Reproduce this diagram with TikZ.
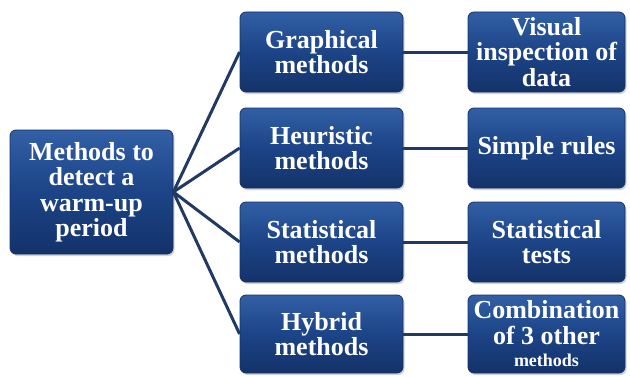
\documentclass[tikz,border=0pt]{standalone}
\usepackage{fontspec}
\setmainfont{Liberation Serif}
\usetikzlibrary{shadows}
\definecolor{boxtop}{RGB}{50,95,165}
\definecolor{boxmid}{RGB}{28,68,135}
\definecolor{boxbot}{RGB}{20,50,105}
\definecolor{linecol}{RGB}{32,58,100}
\tikzset{
  mbox/.style={draw=boxbot, line width=0.8pt, rounded corners=6pt,
    top color=boxtop, bottom color=boxbot, middle color=boxmid,
    drop shadow={shadow xshift=1.5pt, shadow yshift=-2pt, opacity=0.35},
    text=white, font=\bfseries\fontsize{26}{25.5}\selectfont, align=center,
    inner sep=0pt},
  conn/.style={draw=linecol, line width=3pt}
}
\begin{document}
\begin{tikzpicture}[x=1pt,y=1pt]
\useasboundingbox (0,0) rectangle (630,376);
\node[mbox, minimum width=163pt, minimum height=124pt] (root) at (91.5,184) {Methods to\\detect a\\warm-up\\period};
\node[mbox, minimum width=163pt, minimum height=80pt] (g) at (321.5,324) {Graphical\\methods};
\node[mbox, minimum width=163pt, minimum height=80pt] (h) at (321.5,228) {Heuristic\\methods};
\node[mbox, minimum width=163pt, minimum height=80pt] (s) at (321.5,134) {Statistical\\methods};
\node[mbox, minimum width=163pt, minimum height=78pt] (y) at (321.5,42) {Hybrid\\methods};
\node[mbox, minimum width=157pt, minimum height=80pt] (gv) at (546.5,324) {Visual\\inspection of\\data};
\node[mbox, minimum width=157pt, minimum height=80pt] (hs) at (546.5,228) {Simple rules};
\node[mbox, minimum width=157pt, minimum height=80pt] (st) at (546.5,134) {Statistical\\tests};
\node[mbox, minimum width=157pt, minimum height=78pt] (yc) at (546.5,42) {Combination\\of 3 other\\[-3pt]{\fontsize{18}{18}\selectfont methods}};
\foreach \t in {g,h,s,y} \draw[conn] (root.east) -- (\t.west);
\draw[conn] (g.east) -- (gv.west);
\draw[conn] (h.east) -- (hs.west);
\draw[conn] (s.east) -- (st.west);
\draw[conn] (y.east) -- (yc.west);
\end{tikzpicture}
\end{document}
